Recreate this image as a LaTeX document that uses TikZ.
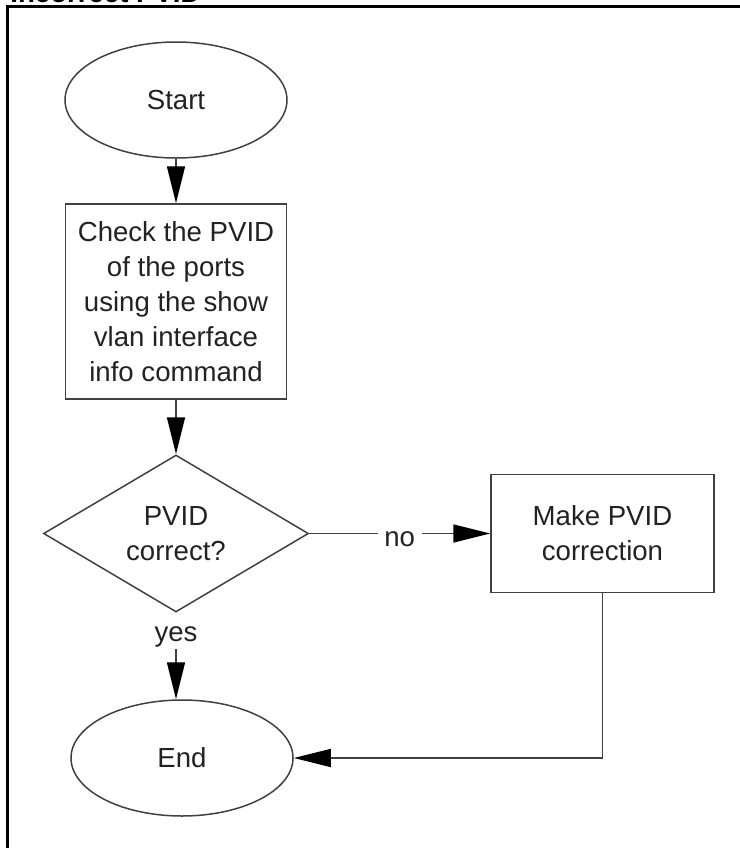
\documentclass[tikz,border=0pt]{standalone}
\usepackage{fontspec}
\setmainfont{Liberation Sans}
\usepackage{xcolor}
\usetikzlibrary{shapes.geometric,arrows.meta}
\definecolor{linegray}{HTML}{404040}
\definecolor{textgray}{HTML}{222222}
\tikzstyle{flow end}=[
        draw = linegray,
        line width = 0.75pt,
        ellipse,
        inner sep = 0pt,
        minimum width = 111pt,
        minimum height = 58pt
    ]
\tikzstyle{flow box}=[
        draw = linegray,
        line width = 0.75pt,
        rectangle,
        align = center,
        inner sep = 0pt
    ]
\tikzstyle{flow test}=[
        draw = linegray,
        line width = 0.75pt,
        diamond,
        shape aspect = 1.7,
        align = center,
        inner sep = 0pt,
        minimum width = 132.5pt,
        minimum height = 78.5pt
    ]

\begin{document}
\begin{tikzpicture}[line width=0.75pt, draw=linegray, text=textgray,
        font=\fontsize{13.8}{17.5}\selectfont,
        >={Triangle[length=18.5pt,width=9pt,black]}]
        \useasboundingbox (0,0) rectangle (370pt,-424pt);
        \draw[black, line width=1.5pt] (3.75pt,-440pt) |- (380pt,-3.25pt);
        \node[anchor=base west, font=\fontsize{13.8}{17.5}\selectfont\bfseries, text=black] (title) at (1.5pt,-1pt) {Incorrect PVID};

        \node[flow end] (start) at (88pt,-50pt) {Start};
        \node[flow box, minimum width=110.5pt, minimum height=97.5pt, node distance=100.75pt] (check) [below of = start] {Check the PVID\\of the ports\\using the show\\vlan interface\\info command};
        \node[flow test, node distance=116pt] (test) [below of = check] {PVID\\correct?};
        \node[flow box, minimum width=111.5pt, minimum height=59pt, node distance=213.25pt] (fix) [right of = test] {Make PVID\\correction};
        \node[inner sep=1pt, node distance=53.75pt] (yes) [below of = test, anchor=base] {yes};
        \node[flow end, node distance=112.25pt, xshift=3pt] (finish) [below of = test] {End};

        \draw[->] (start) -- (check);
        \draw[->] (check) -- (test);
        \draw[->] (test) -- node [midway, fill=white, yshift=-3pt] (no) {no} (fix);
        \draw[->] (yes.south) -- (yes.south |- finish.north);
        \draw[->] (fix) |- (finish);
    \end{tikzpicture}
\end{document}
